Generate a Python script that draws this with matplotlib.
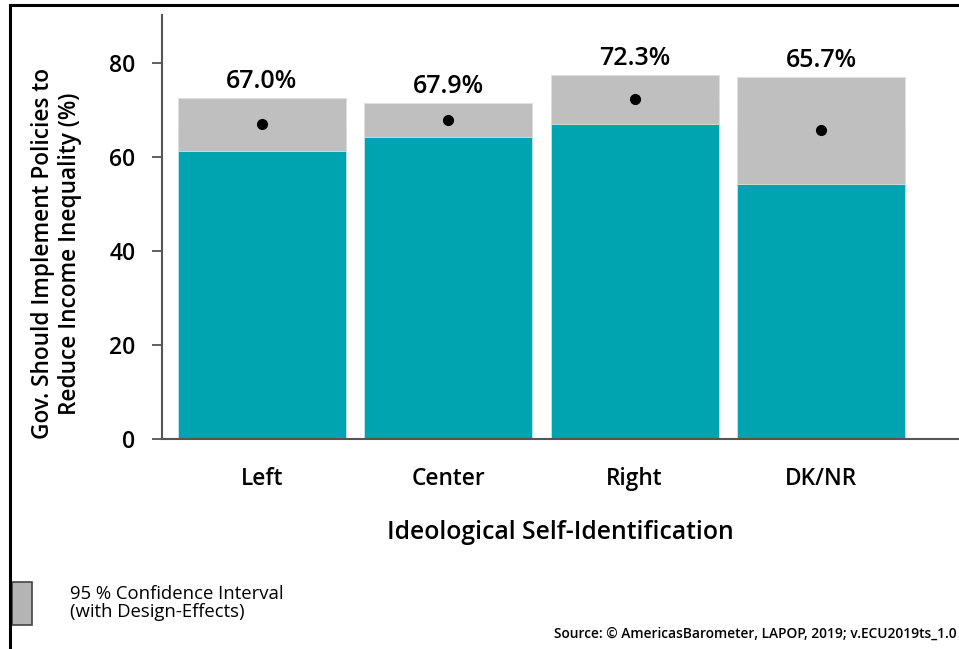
import numpy as np
import matplotlib.pyplot as plt
from matplotlib.lines import Line2D
from matplotlib.patches import Rectangle

plt.rcParams['font.family'] = ['Open Sans', 'DejaVu Sans']
plt.rcParams['font.weight'] = 'semibold'
plt.rcParams['axes.labelweight'] = 'semibold'

# Données
categories = ['Left', 'Center', 'Right', 'DK/NR']
moyennes = [67.0, 67.9, 72.3, 65.7]
ic_bas = [61.3, 64.3, 67.0, 54.3]
ic_haut = [72.6, 71.5, 77.4, 77.0]
yticks = [0, 20, 40, 60, 80]

teal = '#00A3B0'
gris = '#BFBFBF'

fig = plt.figure(figsize=(9.59, 6.49), dpi=100)
ax = fig.add_axes([162/959, 1 - 439/649, 1 - 162/959, (439 - 15)/649])

x = np.arange(len(categories))
moy = np.array(moyennes)
bas = np.array(ic_bas)
haut = np.array(ic_haut)

# Barres : teal jusqu'à la moyenne, gris pour l'intervalle de confiance
ax.bar(x, moy, width=0.9, color=teal, edgecolor='#BFE6EA', linewidth=0.6, zorder=2)
ax.bar(x, haut - bas, bottom=bas, width=0.9, color=gris, edgecolor='#E0E0E0', linewidth=0.6, zorder=3)
ax.plot(x, moy, 'o', color='black', markersize=7, zorder=4)

for i in range(len(x)):
    ax.annotate(f'{moyennes[i]:.1f}%', (x[i], haut[i]), xytext=(0, 3),
                textcoords='offset points', ha='center', va='bottom', fontsize=18)

ax.set_xlim(-0.535, 3.74)
ax.set_ylim(0, 90.2)
ax.set_yticks(yticks)
ax.set_xticks(x)
ax.set_xticklabels(categories, fontsize=16.3)
ax.tick_params(axis='y', labelsize=16.5, length=7, width=1.2, color='#444444', pad=12)
ax.tick_params(axis='x', length=0, pad=20)

for s in ['top', 'right']:
    ax.spines[s].set_visible(False)
for s in ['left', 'bottom']:
    ax.spines[s].set_color('#555555')
    ax.spines[s].set_linewidth(1.5)

ax.set_xlabel('Ideological Self-Identification', fontsize=17.8, labelpad=21)
ax.set_ylabel('Gov. Should Implement Policies to\nReduce Income Inequality (%)', fontsize=16.3)
ax.yaxis.set_label_coords(-0.1, 0.437)

# Cadre extérieur (haut et gauche)
fig.add_artist(Line2D([10/959, 1], [1 - 5/649, 1 - 5/649], color='black', linewidth=2.2))
fig.add_artist(Line2D([10/959, 10/959], [0, 1 - 5/649], color='black', linewidth=2.2))

# Légende de l'intervalle de confiance
fig.add_artist(Rectangle((12/959, 1 - 625/649), 20/959, 43/649, facecolor='#B4B4B4',
                         edgecolor='#444444', linewidth=1.2))
fig.text(70/959, 1 - 603/649, '95 % Confidence Interval\n(with Design-Effects)',
         fontsize=13.3, fontweight='normal', va='center', ha='left', linespacing=1.0)

fig.text(957/959, 1 - 634/649, 'Source: © AmericasBarometer, LAPOP, 2019; v.ECU2019ts_1.0',
         fontsize=9.9, ha='right', va='center', fontweight='semibold')

fig.savefig('out.png', dpi=100)
